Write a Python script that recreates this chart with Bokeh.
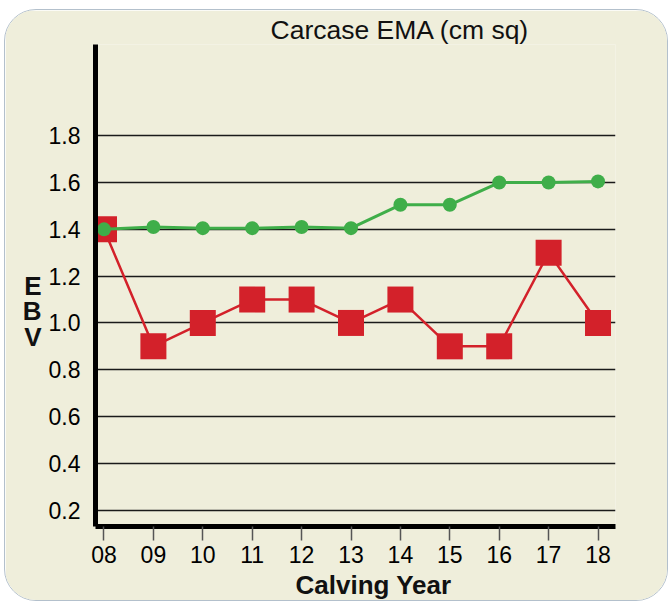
from bokeh.plotting import figure
from bokeh.models import FixedTicker, PrintfTickFormatter, Range1d
from bokeh.embed import file_html
from bokeh.resources import INLINE

# ---- data ----
years = [8, 9, 10, 11, 12, 13, 14, 15, 16, 17, 18]
year_labels = ["08", "09", "10", "11", "12", "13", "14", "15", "16", "17", "18"]
breed_avg = [1.40, 1.41, 1.405, 1.405, 1.41, 1.405, 1.505, 1.505, 1.60, 1.60, 1.605]
herd_ebv = [1.40, 0.90, 1.00, 1.10, 1.10, 1.00, 1.10, 0.90, 0.90, 1.30, 1.00]
y_ticks = [0.2, 0.4, 0.6, 0.8, 1.0, 1.2, 1.4, 1.6, 1.8]

BG = "#efeedb"
RED = "#d3212a"
GREEN = "#3fae49"
FONT = "Liberation Sans"

p = figure(width=664, height=592, output_backend="svg", toolbar_location=None,
           x_range=Range1d(7.828, 18.354), y_range=Range1d(0.13, 2.19),
           min_border_left=90, min_border_right=54, min_border_top=34, min_border_bottom=76)
p.background_fill_color = BG
p.border_fill_color = BG
p.outline_line_color = None
p.styles = {"border-radius": "32px", "overflow": "hidden", "border": "1px solid #b3c0cc",
            "margin-left": "4px", "margin-top": "9px"}

p.title.text = "Carcase EMA (cm sq)"
p.title.align = "left"
p.title.offset = 175
p.title.standoff = 0
p.title.text_font = FONT
p.title.text_font_size = "26.5px"
p.title.text_font_style = "normal"
p.title.text_color = "#111111"

# axes
p.xaxis.ticker = FixedTicker(ticks=years)
p.xaxis.major_label_overrides = {y: l for y, l in zip(years, year_labels)}
p.xaxis.axis_line_width = 5
p.xaxis.axis_line_color = "black"
p.xaxis.major_tick_in = 0
p.xaxis.major_tick_out = 14
p.xaxis.major_tick_line_color = "#555555"
p.xaxis.major_tick_line_width = 1.5
p.xaxis.minor_tick_line_color = None
p.xaxis.major_label_standoff = 5
p.xaxis.major_label_text_font = FONT
p.xaxis.major_label_text_font_size = "23px"
p.xaxis.major_label_text_color = "black"
p.xaxis.axis_label = "\u00a0" * 5 + "Calving Year"
p.xaxis.axis_label_text_font = FONT
p.xaxis.axis_label_text_font_size = "26px"
p.xaxis.axis_label_text_font_style = "bold"
p.xaxis.axis_label_text_color = "#111111"
p.xaxis.axis_label_text_line_height = 0.85
p.xaxis.axis_label_standoff = 4

p.yaxis.ticker = FixedTicker(ticks=y_ticks)
p.yaxis.formatter = PrintfTickFormatter(format="%.1f")
p.yaxis.axis_line_width = 5
p.yaxis.axis_line_color = "black"
p.yaxis.major_tick_in = 0
p.yaxis.major_tick_out = 0
p.yaxis.minor_tick_line_color = None
p.yaxis.major_label_standoff = 15
p.yaxis.major_label_text_font = FONT
p.yaxis.major_label_text_font_size = "23px"
p.yaxis.major_label_text_color = "black"
p.yaxis.axis_label = "\u00a0\n\u00a0\nE\nB\nV"
p.yaxis.axis_label_text_font = FONT
p.yaxis.axis_label_text_font_size = "26px"
p.yaxis.axis_label_text_font_style = "bold"
p.yaxis.axis_label_text_color = "#111111"
p.yaxis.axis_label_text_line_height = 0.86
p.yaxis.axis_label_standoff = 4
if "axis_label_orientation" in p.yaxis[0].properties():
    p.yaxis.axis_label_orientation = "horizontal"

p.xgrid.grid_line_color = None
p.ygrid.ticker = FixedTicker(ticks=y_ticks)
p.ygrid.grid_line_color = "#1a1a1a"
p.ygrid.grid_line_width = 1.3

# series
p.line(years, herd_ebv, line_color=RED, line_width=2.5)
p.scatter(years, herd_ebv, marker="square", size=26, fill_color=RED, line_color=None)
p.line(years, breed_avg, line_color=GREEN, line_width=3)
p.scatter(years, breed_avg, marker="circle", size=14, fill_color=GREEN, line_color=None)

open("out.html", "w").write(file_html(p, INLINE))
